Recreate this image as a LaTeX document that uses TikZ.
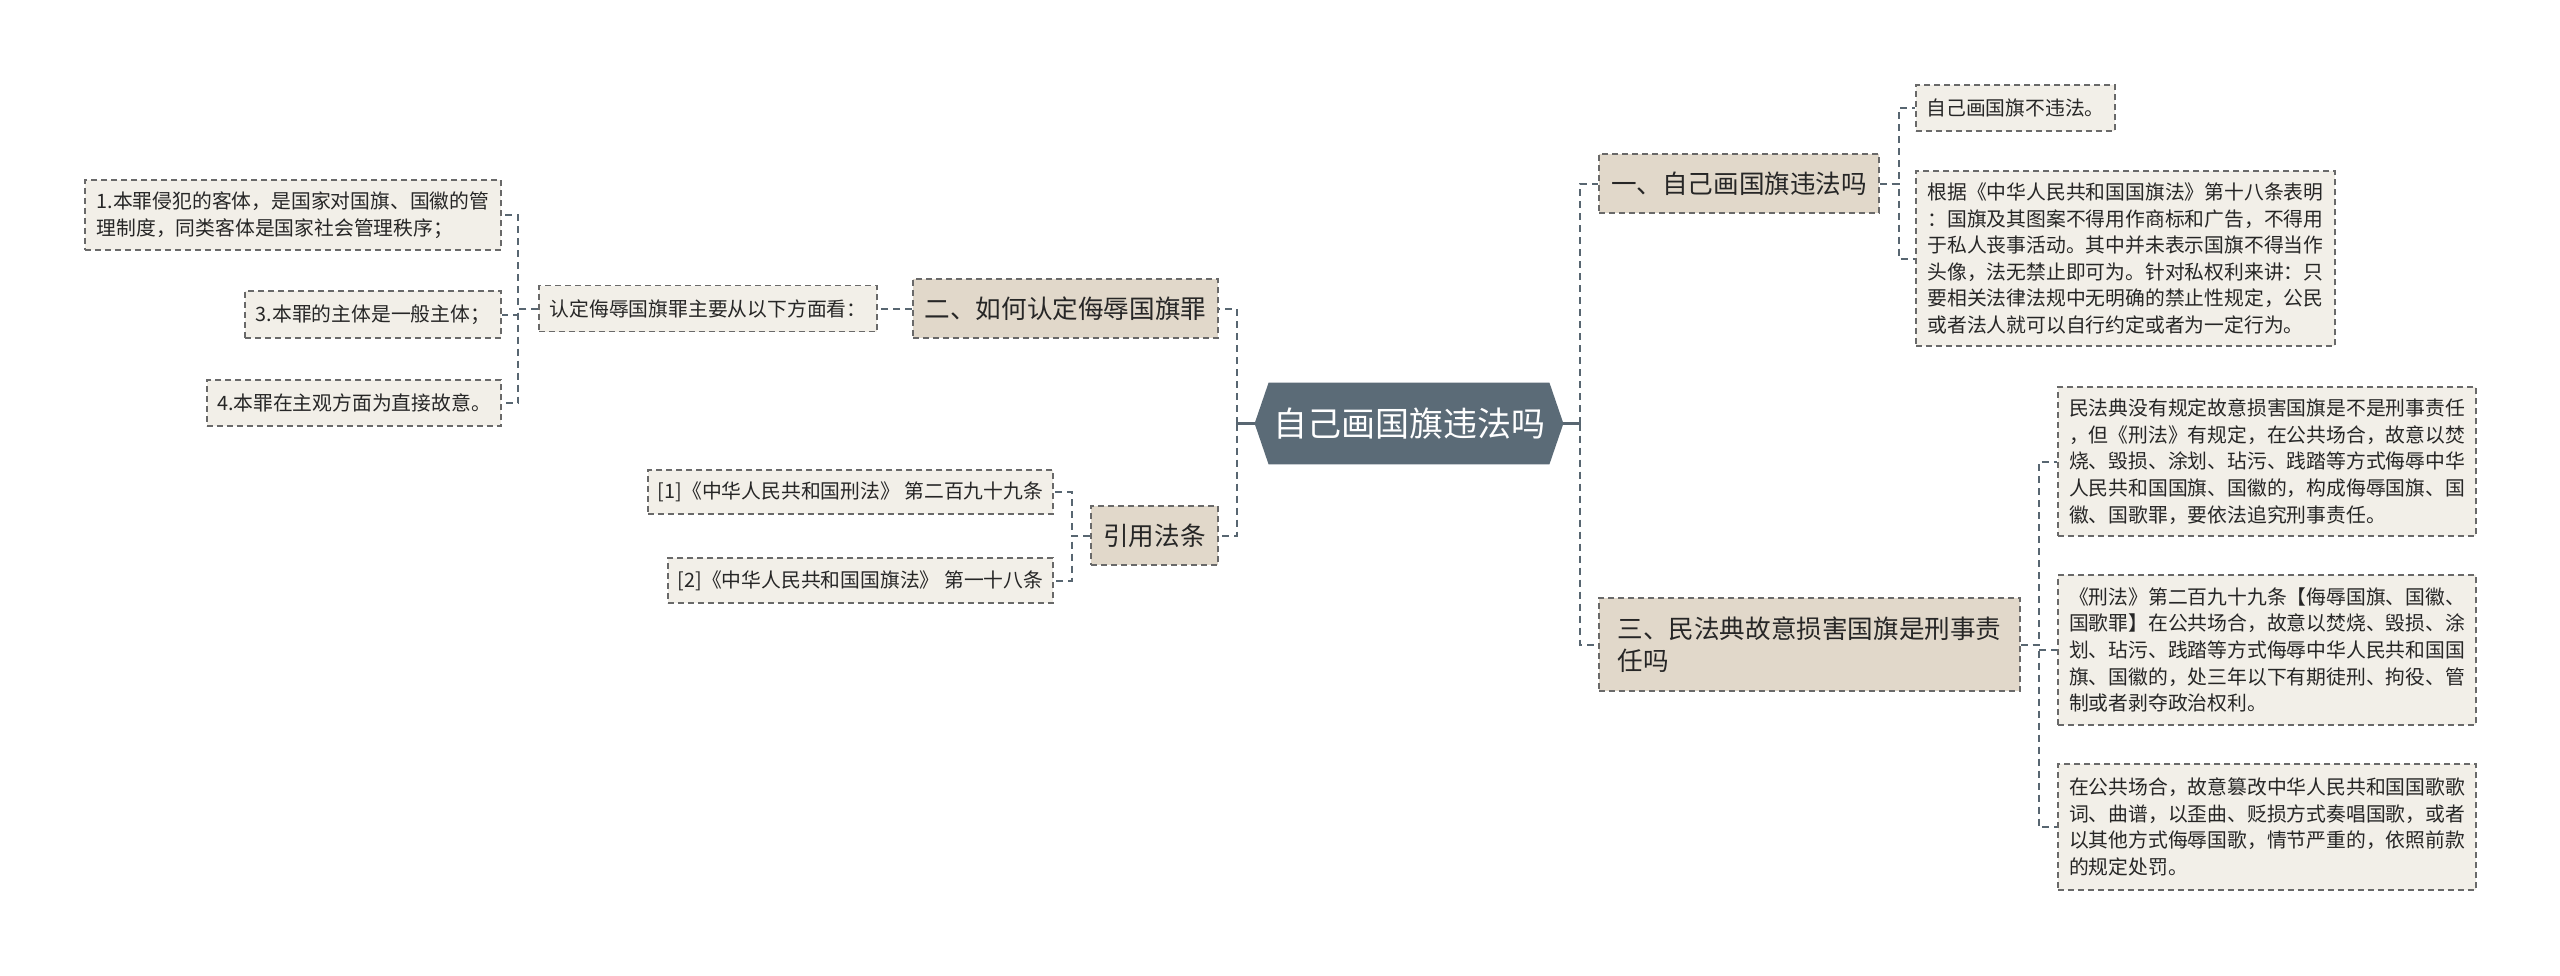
\documentclass[tikz,border=0pt]{standalone}
\usepackage{fontspec}
\setmainfont{Noto Sans CJK SC}
\usetikzlibrary{backgrounds}
\definecolor{rootfill}{RGB}{91,107,119}
\definecolor{linkc}{RGB}{88,102,113}
\definecolor{bordc}{RGB}{105,105,105}
\definecolor{topicfill}{RGB}{225,216,202}
\definecolor{leaffill}{RGB}{242,239,232}
\definecolor{txtc}{RGB}{38,38,38}
\begin{document}
\begin{tikzpicture}[x=0.5pt,y=-0.5pt,
  leaf/.style={draw=bordc,fill=leaffill,dash pattern=on 3pt off 2pt,line width=0.8pt,
    font=\fontsize{9.9pt}{13.3pt}\selectfont,text=txtc,align=left,inner sep=0pt},
  topic/.style={leaf,fill=topicfill,font=\fontsize{12.8pt}{16.3pt}\selectfont},
  link/.style={draw=linkc,dash pattern=on 3.5pt off 2.5pt,line width=1pt},
  stub/.style={draw=linkc,line width=1.6pt}]
  \useasboundingbox (0,0) rectangle (2560,975);
  % root
  \node[minimum width=154pt,minimum height=40.5pt,inner sep=0pt,text=white,
    font=\fontsize{17pt}{20pt}\selectfont] (root) at (1409,423.5) {自己画国旗违法吗};
  \begin{scope}[on background layer]
    \fill[white] (0,0) rectangle (2560,975);
    \fill[rootfill] (root.west) -- ([xshift=7pt]root.north west) -- ([xshift=-7pt]root.north east)
      -- (root.east) -- ([xshift=-7pt]root.south east) -- ([xshift=7pt]root.south west) -- cycle;
  \end{scope}
  % right side
  \node[topic,minimum width=140pt,minimum height=29.5pt] (draw) at (1739,183.5) {一、自己画国旗违法吗};
  \node[leaf,minimum width=99.5pt,minimum height=23pt] (legal) at (2015.5,108) {自己画国旗不违法。};
  \node[leaf,minimum width=209.5pt,minimum height=87.5pt] (flaglaw) at (2125.5,258.5)
    {根据《中华人民共和国国旗法》第十八条表明\\：国旗及其图案不得用作商标和广告，不得用\\于私人丧事活动。其中并未表示国旗不得当作\\头像，法无禁止即可为。针对私权利来讲：只\\要相关法律法规中无明确的禁止性规定，公民\\或者法人就可以自行约定或者为一定行为。};
  \node[topic,minimum width=210.5pt,minimum height=46.5pt] (civil) at (1809.5,644.5)
    {三、民法典故意损害国旗是刑事责\\任吗};
  \node[leaf,minimum width=209pt,minimum height=74.5pt] (civa) at (2267,461.5)
    {民法典没有规定故意损害国旗是不是刑事责任\\，但《刑法》有规定，在公共场合，故意以焚\\烧、毁损、涂划、玷污、践踏等方式侮辱中华\\人民共和国国旗、国徽的，构成侮辱国旗、国\\徽、国歌罪，要依法追究刑事责任。};
  \node[leaf,minimum width=209pt,minimum height=75pt] (civb) at (2267,650)
    {《刑法》第二百九十九条【侮辱国旗、国徽、\\国歌罪】在公共场合，故意以焚烧、毁损、涂\\划、玷污、践踏等方式侮辱中华人民共和国国\\旗、国徽的，处三年以下有期徒刑、拘役、管\\制或者剥夺政治权利。};
  \node[leaf,minimum width=209pt,minimum height=63pt] (civc) at (2267,827)
    {在公共场合，故意篡改中华人民共和国国歌歌\\词、曲谱，以歪曲、贬损方式奏唱国歌，或者\\以其他方式侮辱国歌，情节严重的，依照前款\\的规定处罚。};
  % left side
  \node[topic,minimum width=152.5pt,minimum height=29.5pt] (howto) at (1065.5,308.5) {二、如何认定侮辱国旗罪};
  \node[leaf,minimum width=169pt,minimum height=23pt] (aspects) at (708,308.5) {认定侮辱国旗罪主要从以下方面看：};
  \node[leaf,minimum width=208pt,minimum height=35pt] (asp1) at (293,215)
    {1.本罪侵犯的客体，是国家对国旗、国徽的管\\理制度，同类客体是国家社会管理秩序；};
  \node[leaf,minimum width=128pt,minimum height=23.5pt] (asp3) at (373,314.5) {3.本罪的主体是一般主体；};
  \node[leaf,minimum width=147pt,minimum height=23pt] (asp4) at (354,403) {4.本罪在主观方面为直接故意。};
  \node[topic,minimum width=63.5pt,minimum height=29.5pt] (cite) at (1154.5,535.5) {引用法条};
  \node[leaf,minimum width=202.5pt,minimum height=22pt] (cite1) at (850.5,492) {[1]《中华人民共和国刑法》 第二百九十九条};
  \node[leaf,minimum width=192.5pt,minimum height=22.5pt] (cite2) at (860.5,580.5) {[2]《中华人民共和国国旗法》 第一十八条};
  % connectors
  \draw[stub] (root.east) -- ++(17,0) coordinate (rbus);
  \draw[stub] (root.west) -- ++(-18,0) coordinate (lbus);
  \foreach \n in {draw,civil}{
    \draw[link] (rbus) |- (\n.west);
  }
  \foreach \n in {howto,cite}{
    \draw[link] (lbus) |- (\n.east);
  }
  \foreach \n in {legal,flaglaw}{
    \draw[link] (draw.east) -- ++(19,0) |- (\n.west);
  }
  \foreach \n in {civa,civb,civc}{
    \draw[link] (civil.east) -- ++(18,0) |- (\n.west);
  }
  \draw[link] (howto.west) -- (aspects.east);
  \foreach \n in {asp1,asp3,asp4}{
    \draw[link] (aspects.west) -- ++(-20,0) |- (\n.east);
  }
  \foreach \n in {cite1,cite2}{
    \draw[link] (cite.west) -- ++(-18,0) |- (\n.east);
  }
\end{tikzpicture}
\end{document}
